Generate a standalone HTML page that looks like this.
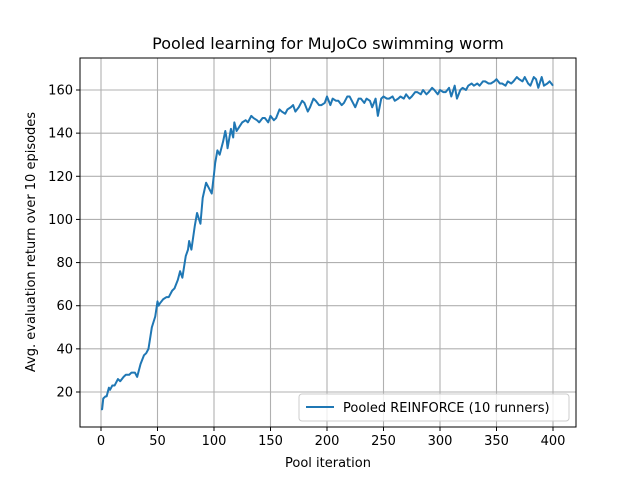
<!DOCTYPE html>
<html><head><meta charset="utf-8"><style>
body{margin:0;background:#fff;font-family:"Liberation Sans","DejaVu Sans",sans-serif}
</style></head><body>
<svg id="c" width="640" height="480" xmlns="http://www.w3.org/2000/svg" font-family="DejaVu Sans, Liberation Sans, sans-serif">
<rect width="640" height="480" fill="#fff"/>
<g id="grid"></g>
<g id="ticks"></g>
<polyline id="line" fill="none" stroke="#1f77b4" stroke-width="2" stroke-linejoin="round"/>
<rect x="80" y="58" width="496" height="369" fill="none" stroke="#000" stroke-width="1"/>
<text x="328" y="49" font-size="16" text-anchor="middle">Pooled learning for MuJoCo swimming worm</text>
<text x="328" y="467" font-size="13" text-anchor="middle">Pool iteration</text>
<text transform="translate(35,242) rotate(-90)" font-size="13" text-anchor="middle">Avg. evaluation return over 10 episodes</text>
<g>
<rect x="299" y="394" width="270" height="27" rx="3" fill="#fff" fill-opacity="0.8" stroke="#ccc"/>
<line x1="306" y1="407" x2="334" y2="407" stroke="#1f77b4" stroke-width="2"/>
<text x="343" y="412" font-size="13">Pooled REINFORCE (10 runners)</text>
</g>
</svg>
<script>
const xs=[0,1,2,4,5,7,8,10,12,15,17,20,22,25,27,30,32,35,38,40,42,45,48,50,51,52,55,58,60,62,63,65,68,70,72,75,77,78,80,83,85,88,89,90,93,95,98,100,101,103,105,108,110,111,112,115,117,118,120,125,128,130,133,135,138,140,143,145,148,150,153,155,158,160,163,165,168,170,172,175,178,180,183,185,188,190,193,195,198,200,203,205,208,210,213,215,218,220,223,225,228,230,233,235,238,240,243,245,248,250,253,255,258,260,263,265,268,270,273,275,278,280,283,285,288,290,293,295,298,300,303,305,308,310,313,315,318,320,323,325,328,330,333,335,338,340,343,345,348,350,353,355,358,360,363,365,368,370,373,375,378,380,383,385,387,390,392,395,397,400];
const ys=[12,12,17,18,18,22,21,23,23,26,25,27,28,28,29,29,27,33,37,38,40,50,55,62,60,61,63,64,64,66,67,68,72,76,73,83,86,90,86,97,103,98,104,110,117,115,112,121,126,132,130,136,141,138,133,142,138,145,141,145,146,145,148,147,146,145,147,147,145,148,146,147,151,150,149,151,152,153,150,152,155,154,150,152,156,155,153,153,154,157,153,156,155,155,153,154,157,157,154,152,156,156,154,156,155,152,156,148,156,157,156,156,157,155,156,157,156,158,156,157,159,159,158,160,158,159,161,160,158,160,159,159,161,157,162,156,160,161,160,162,163,162,163,162,164,164,163,163,164,165,163,163,162,164,163,164,166,165,164,166,163,162,166,165,161,166,162,163,164,162];
const xTicks=[0,50,100,150,200,250,300,350,400];
const yTicks=[20,40,60,80,100,120,140,160];
const X=v=>101+v*(553-101)/400;
const Y=v=>392-(v-20)*(392-90)/140;
const ns="http://www.w3.org/2000/svg";
const g=document.getElementById('grid'),t=document.getElementById('ticks');
function mk(p,tag,a){const e=document.createElementNS(ns,tag);for(const k in a)e.setAttribute(k,a[k]);p.appendChild(e);return e;}
xTicks.forEach(v=>{
 const l=mk(g,'line',{x1:X(v),x2:X(v),y1:58,y2:427,stroke:'#b0b0b0','stroke-width':1.1});
 
 
 mk(t,'line',{x1:X(v),x2:X(v),y1:427,y2:431,stroke:'#000','stroke-width':1});
 const s=mk(t,'text',{x:X(v),y:445,'font-size':13,'text-anchor':'middle'});s.textContent=v;
 
 
});
yTicks.forEach(v=>{
 const l=mk(g,'line',{x1:80,x2:576,y1:Y(v),y2:Y(v),stroke:'#b0b0b0','stroke-width':1.1});
 
 
 mk(t,'line',{x1:76,x2:80,y1:Y(v),y2:Y(v),stroke:'#000','stroke-width':1});
 const s=mk(t,'text',{x:73,y:Y(v)+4.5,'font-size':13,'text-anchor':'end'});s.textContent=v;
 
 
});
document.getElementById('line').setAttribute('points',xs.map((x,i)=>X(x)+','+Y(ys[i])).join(' '));
</script>
</body></html>
